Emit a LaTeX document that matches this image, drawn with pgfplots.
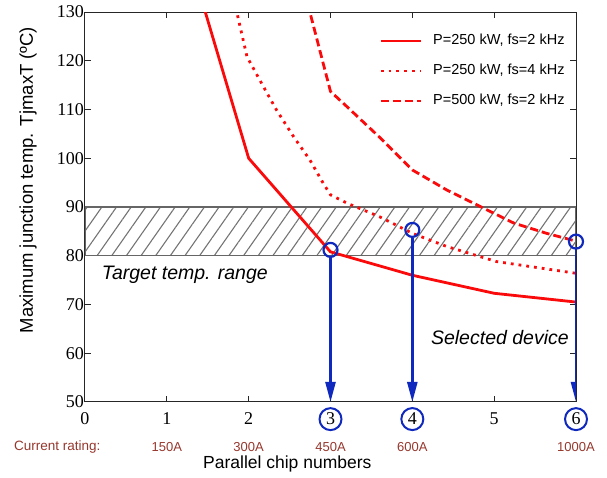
\documentclass[border=0pt]{standalone}
\usepackage{fontspec}
\setmainfont{Liberation Sans}
\newfontfamily\tickfont{Liberation Serif}
\usepackage{pgfplots}
\pgfplotsset{compat=1.18}
\usetikzlibrary{patterns.meta,arrows.meta}
\definecolor{cred}{RGB}{250,10,10}
\definecolor{cblue}{RGB}{15,40,190}
\definecolor{crate}{RGB}{150,55,45}
\newcommand{\circnum}[1]{\tikz[baseline=(c.base)]\node[draw=cblue,circle,line width=2pt,inner sep=0pt,minimum size=22pt](c){#1};}
\begin{document}
\begin{tikzpicture}
\begin{axis}[
  scale only axis, width=491pt, height=390pt,
  xmin=0, xmax=6, ymin=50, ymax=130,
  xtick={0,1,2,3,4,5,6},
  xticklabels={0,1,2,\circnum{3},\circnum{4},5,\circnum{6}},
  ytick={50,60,...,130},
  clip mode=individual,
  axis line style={line width=1pt, black!85},
  major tick length=6pt,
  every tick/.style={line width=1pt, black!85},
  /pgf/number format/assume math mode=true,
  tick label style={font=\tickfont\fontsize{18}{20}\selectfont},
  x tick label style={anchor=base, yshift=-23pt},
  y tick label style={inner sep=1pt},
  xlabel={Parallel chip numbers},
  xlabel style={at={(axis description cs:0.412,0)}, anchor=center, yshift=-62pt, font=\fontsize{17.5}{20}\selectfont},
  ylabel={Maximum junction temp. TjmaxT (ºC)},
  ylabel style={at={(axis description cs:-0.1161,0.569)}, anchor=center, font=\fontsize{18.5}{20}\selectfont},
  legend style={draw=none, fill=white, at={(rel axis cs:0.593,0.952)}, anchor=north west,
    font=\fontsize{14.5}{16}\selectfont, row sep=14pt,
    nodes={inner sep=1pt, text height=11pt, text depth=3pt},
    /tikz/every odd column/.style={column sep=10pt}},
  legend cell align=left,
  legend image code/.code={\draw[#1] (0pt,0pt) -- (40pt,0pt);},
]
% target band
\addplot[forget plot, draw=black!60, line width=1.5pt, pattern={Lines[angle=55,distance=12pt,line width=1.1pt]}, pattern color=black!55]
  coordinates {(0,80) (6,80) (6,90) (0,90)} -- cycle;

\addplot[cred, line width=2.8pt] coordinates {
  (1,156.6) (2,100) (3,80.8) (4,76) (5,72.3) (6,70.5)};
\addlegendentry{P=250 kW, fs=2 kHz}

\addplot[cred, line width=2.8pt, dash pattern=on 2.8pt off 5pt, line cap=butt] coordinates {
  (1.8,134) (1.98,120.8) (2.18,114.7) (2.34,109.9) (2.55,104.4) (2.75,99.6) (2.91,94.9) (3,92.5)
  (3.2,90.8) (3.6,88) (4,84.6) (4.42,81.9) (5.03,78.8) (6,76.4)};
\addlegendentry{P=250 kW, fs=4 kHz}

\addplot[cred, line width=2.8pt, dash pattern=on 8pt off 4pt] coordinates {
  (2.5,146) (3,113.7) (3.2,110.6) (3.6,104.3) (4,97.6) (4.42,93.5) (4.83,90.1) (5.24,86.7) (5.64,84.6) (6,83)};
\addlegendentry{P=500 kW, fs=2 kHz}

% selected devices
\addplot[forget plot, only marks, mark=o, mark size=7pt, cblue, mark options={line width=2.2pt}]
  coordinates {(3,81.2) (4,85.3) (6,82.9)};
\addplot[forget plot, cblue, line width=2.4pt, -{Triangle[length=20pt,width=10pt]}] coordinates {(3,79.6) (3,50)};
\addplot[forget plot, cblue, line width=2.4pt, -{Triangle[length=20pt,width=10pt]}] coordinates {(4,83.7) (4,50)};
\addplot[forget plot, cblue, line width=2.4pt, -{Triangle[length=20pt,width=10pt]}] coordinates {(6,81.3) (6,50)};

\node[font=\itshape\fontsize{19.5}{22}\selectfont] at (axis cs:1.22,76) {Target temp. range};
\node[font=\itshape\fontsize{19.5}{22}\selectfont] at (axis cs:5.07,63.3) {Selected device};

% current rating row
\node[crate, font=\fontsize{13.5}{15}\selectfont] at (axis cs:-0.34,40.8) {Current rating:};
\node[crate, font=\fontsize{13}{15}\selectfont] at (axis cs:1,40.7) {150A};
\node[crate, font=\fontsize{13}{15}\selectfont] at (axis cs:2,40.7) {300A};
\node[crate, font=\fontsize{13}{15}\selectfont] at (axis cs:3,40.7) {450A};
\node[crate, font=\fontsize{13}{15}\selectfont] at (axis cs:4,40.7) {600A};
\node[crate, font=\fontsize{13}{15}\selectfont] at (axis cs:6,40.7) {1000A};
\end{axis}
\pgfresetboundingbox
\path (-85pt,-76pt) rectangle (522pt,402pt);
\end{tikzpicture}
\end{document}
